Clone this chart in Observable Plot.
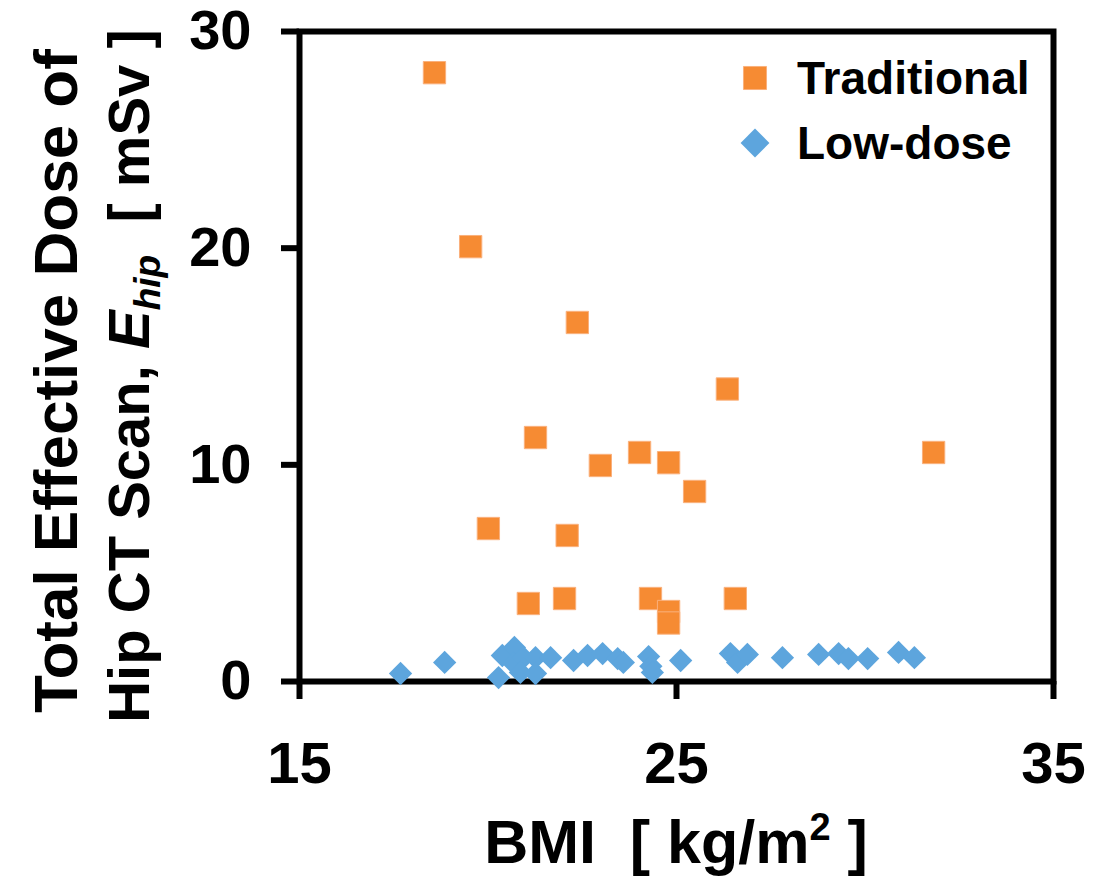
<!DOCTYPE html>
<html><head><meta charset="utf-8">
<script src="https://cdn.jsdelivr.net/npm/d3@7"></script>
<script src="https://cdn.jsdelivr.net/npm/@observablehq/plot@0.6"></script>
<style>
body{margin:0;background:#fff}
#chart{position:relative;width:1100px;height:880px}
</style>
</head><body><div id="chart"></div>
<script>
// Traditional CT protocol: BMI [kg/m2] and total effective dose [mSv]
const tradBMI  = [18.58, 19.54, 22.37, 21.26, 22.98, 24.02, 24.79, 25.48, 20.01, 22.10, 21.07, 22.03, 24.31, 24.79, 24.79, 26.56, 26.35, 31.82];
const tradDose = [28.1, 20.07, 16.57, 11.26, 9.97, 10.57, 10.1, 8.77, 7.06, 6.74, 3.6, 3.83, 3.83, 3.23, 2.7, 3.83, 13.5, 10.57];
// Low-dose CT protocol
const lowBMI  = [17.68, 18.85, 20.28, 20.38, 20.70, 20.68, 20.94, 20.86, 21.26, 21.26, 21.66, 22.27, 22.64, 23.04, 23.44, 23.59, 24.26, 24.32, 24.36, 25.11, 26.43, 26.62, 26.88, 27.81, 28.77, 29.30, 29.56, 30.07, 30.89, 31.31];
const lowDose = [0.37, 0.88, 0.18, 1.2, 1.57, 0.83, 1.1, 0.42, 1.1, 0.37, 1.1, 0.97, 1.2, 1.29, 1.06, 0.88, 1.15, 0.7, 0.42, 0.97, 1.29, 0.88, 1.25, 1.1, 1.25, 1.29, 1.06, 1.06, 1.34, 1.1];

const xTicks = [15, 25, 35];
const yTicks = [0, 10, 20, 30];
const seriesNames = ["Traditional", "Low-dose"];
const seriesColors = ["#F68B33", "#5DA5DD"];
const xTitle = "BMI  [ kg/m";
const yTitle1 = "Total Effective Dose of";
const yTitle2 = "Hip CT Scan, ";

const font = "'Liberation Sans', Arial, Helvetica, sans-serif";

const trad = tradBMI.map((x, i) => ({bmi: x, dose: tradDose[i], series: seriesNames[0]}));
const low = lowBMI.map((x, i) => ({bmi: x, dose: lowDose[i], series: seriesNames[1]}));

const plot = Plot.plot({
  width: 1100, height: 880,
  marginLeft: 299, marginRight: 47, marginTop: 31, marginBottom: 199,
  x: {domain: [15, 35]},
  y: {domain: [0, 30]},
  style: {fontFamily: font, background: "#fff", color: "#000"},
  marks: [
    Plot.axisX({ticks: xTicks, tickSize: 18, strokeWidth: 6, tickPadding: 42, fontSize: 58, fontWeight: "bold", label: null}),
    Plot.axisY({ticks: yTicks, tickSize: 18, strokeWidth: 6, tickPadding: 30, fontSize: 56, fontWeight: "bold", label: null}),
    Plot.frame({stroke: "#000", strokeWidth: 6}),
    Plot.dot(trad, {x: "bmi", y: "dose", symbol: "square", r: 12.6, fill: seriesColors[0], stroke: "#FAB07C", strokeWidth: 1}),
    Plot.dot(low, {x: "bmi", y: "dose", symbol: "diamond2", r: 10.5, fill: seriesColors[1], stroke: "none"})
  ]
});
document.getElementById("chart").appendChild(plot);

const svg = d3.select(plot);
// X axis title
const xt = svg.append("text").attr("x", 676).attr("y", 863).attr("text-anchor", "middle")
  .attr("font-family", font).attr("font-weight", "bold").attr("font-size", 61).style("white-space", "pre");
xt.append("tspan").text(xTitle);
xt.append("tspan").attr("font-size", 38).attr("dy", -23).text("2");
xt.append("tspan").attr("dy", 23).text(" ]");

// Y axis title (two lines, rotated)
const yg = svg.append("g").attr("transform", "rotate(-90)")
  .attr("font-family", font).attr("font-weight", "bold").style("white-space", "pre").attr("text-anchor", "middle");
yg.append("text").attr("x", -381).attr("y", 77).attr("font-size", 62).text(yTitle1);
const l2 = yg.append("text").attr("x", -376).attr("y", 149).attr("font-size", 58);
l2.append("tspan").text(yTitle2);
l2.append("tspan").attr("font-style", "italic").text("E");
l2.append("tspan").attr("font-style", "italic").attr("font-size", 37).attr("dy", 11).text("hip");
l2.append("tspan").attr("dy", -11).text("  [ mSv ]");

// Legend
const lg = svg.append("g").attr("font-family", font).attr("font-weight", "bold").attr("font-size", 46).attr("text-anchor", "start");
lg.append("path").attr("d", d3.symbol(d3.symbolSquare, Math.PI * 13 * 13)()).attr("transform", "translate(755,78)")
  .attr("fill", seriesColors[0]).attr("stroke", "#FAB07C");
lg.append("text").attr("x", 797).attr("y", 78).attr("dy", "0.35em").text(seriesNames[0]);
lg.append("path").attr("d", d3.symbol(d3.symbolDiamond2, Math.PI * 13 * 13)()).attr("transform", "translate(755,143)")
  .attr("fill", seriesColors[1]);
lg.append("text").attr("x", 797).attr("y", 143).attr("dy", "0.35em").text(seriesNames[1]);
</script>
</body></html>
